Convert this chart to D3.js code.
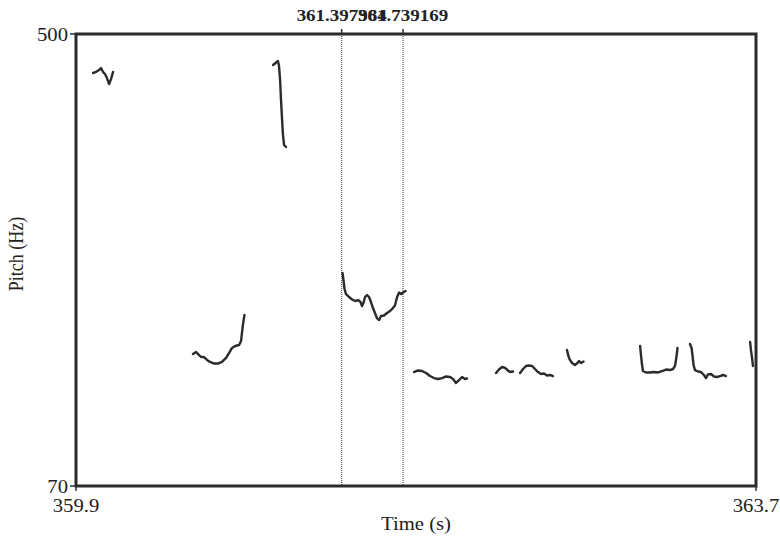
<!DOCTYPE html>
<html>
<head>
<meta charset="utf-8">
<script src="https://cdn.jsdelivr.net/npm/d3@7"></script>
<style>
  html, body { margin: 0; padding: 0; background: #fff; }
  svg text { font-family: "Liberation Serif", "Times New Roman", serif; fill: #222; }
</style>
</head>
<body>
<svg id="chart" width="780" height="537"></svg>
<script>
// Visible time window (s) and pitch range (Hz)
const timeRange = [359.922, 363.700];
const pitchRange = [70, 500];
const xTickLabels = ["359.9", "363.7"];
const yTickLabels = ["70", "500"];

// Selection cursors
const cursorTimes = [361.397984, 361.739169];
const cursorLabels = ["361.397984", "361.739169"];

// Voiced stretches of the pitch track: [time (s), F0 (Hz)]
const seg1 = [[360.017,462.9],[360.033,463.9],[360.050,465.7],[360.061,467.6],[360.072,463.9],[360.083,461.9],[360.094,458.1],[360.106,452.4],[360.117,457.3],[360.128,463.9]];
const seg2 = [[361.017,470.5],[361.044,474.3],[361.050,469.5],[361.056,456.2],[361.061,437.2],[361.067,418.2],[361.072,404.0],[361.078,394.4],[361.089,392.5]];
const seg3 = [[360.572,195.6],[360.589,197.5],[360.606,194.6],[360.617,192.7],[360.633,192.7],[360.650,189.9],[360.667,188.0],[360.689,186.5],[360.711,186.5],[360.733,188.0],[360.756,191.8],[360.772,196.5],[360.789,201.3],[360.806,203.2],[360.828,204.1],[360.839,207.9],[360.844,215.5],[360.850,224.1],[360.858,232.7]];
const seg4 = [[361.403,272.6],[361.408,266.0],[361.414,257.4],[361.422,252.6],[361.439,249.8],[361.456,247.4],[361.472,246.0],[361.489,246.9],[361.503,245.0],[361.511,241.2],[361.519,244.1],[361.528,249.8],[361.539,251.7],[361.550,249.8],[361.561,245.0],[361.572,239.3],[361.583,234.6],[361.594,229.8],[361.606,227.9],[361.617,231.7],[361.633,232.2],[361.650,234.6],[361.667,236.5],[361.683,239.3],[361.694,241.7],[361.706,249.8],[361.717,254.1],[361.728,252.6],[361.739,254.1],[361.753,255.5]];
const seg5 = [[361.800,178.4],[361.822,179.9],[361.844,179.4],[361.867,177.5],[361.889,174.6],[361.911,172.7],[361.933,171.8],[361.956,172.7],[361.978,174.2],[362.000,173.7],[362.017,171.8],[362.033,168.0],[362.050,170.8],[362.067,173.7],[362.083,171.8],[362.094,172.3]];
const seg6 = [[362.256,177.5],[362.272,180.8],[362.289,183.2],[362.306,182.3],[362.322,179.9],[362.333,178.4],[362.350,178.9]];
const seg7 = [[362.389,177.5],[362.406,181.3],[362.422,184.2],[362.439,184.6],[362.456,184.2],[362.472,181.3],[362.489,178.4],[362.506,176.5],[362.522,177.0],[362.539,175.1],[362.556,175.6],[362.572,174.6]];
const seg8 = [[362.650,199.4],[362.656,194.6],[362.664,190.8],[362.678,187.0],[362.694,185.1],[362.708,187.0],[362.717,188.9],[362.728,187.0],[362.742,188.4]];
const seg9 = [[363.056,203.2],[363.061,194.6],[363.067,185.1],[363.072,179.4],[363.089,178.0],[363.111,178.0],[363.133,178.4],[363.156,178.0],[363.178,179.4],[363.200,180.8],[363.222,180.3],[363.239,181.3],[363.250,184.2],[363.258,192.7],[363.264,201.3]];
const seg10 = [[363.333,205.1],[363.342,201.3],[363.347,194.6],[363.353,185.1],[363.361,180.3],[363.378,178.9],[363.394,178.4],[363.411,175.6],[363.422,172.7],[363.433,176.1],[363.450,176.5],[363.467,174.2],[363.483,173.7],[363.500,174.6],[363.517,175.6],[363.533,174.6]];
const seg11 = [[363.667,207.0],[363.672,199.4],[363.678,191.8],[363.683,184.2]];
const pitchSegments = [seg1, seg2, seg3, seg4, seg5, seg6, seg7, seg8, seg9, seg10, seg11];

const svg = d3.select("#chart");
const plot = { left: 76, right: 756, top: 34, bottom: 486 };
const ink = "#2b2b2b";
const stretch = 1.15;

const x = d3.scaleLinear().domain(timeRange).range([plot.left, plot.right]);
const y = d3.scaleLinear().domain(pitchRange).range([plot.bottom, plot.top]);

// text with the wide glyph proportions of the original print
function label(sel, str, px, py, opts) {
  const o = Object.assign({ size: 18, anchor: "middle", weight: "normal", rotate: 0 }, opts || {});
  const t = sel.append("text")
    .attr("transform", `translate(${px},${py}) rotate(${o.rotate}) scale(${o.rotate ? 1 : stretch},${o.rotate ? stretch : 1})`)
    .attr("text-anchor", o.anchor)
    .style("font-size", o.size + "px")
    .style("font-weight", o.weight)
    .text(str);
  return t;
}

// cursor lines (dotted)
const cursors = svg.append("g");
cursorTimes.forEach((t, i) => {
  cursors.append("line")
    .attr("x1", x(t)).attr("x2", x(t))
    .attr("y1", plot.top).attr("y2", plot.bottom)
    .attr("stroke", "#555").attr("stroke-width", 1.2)
    .attr("stroke-dasharray", "1,1");
  cursors.append("line")
    .attr("x1", x(t)).attr("x2", x(t))
    .attr("y1", plot.top - 5).attr("y2", plot.top)
    .attr("stroke", ink).attr("stroke-width", 1.5);
  label(svg, cursorLabels[i], x(t), 21, { size: 16.5, weight: "bold" });
});

// pitch contour
const line = d3.line().x(d => x(d[0])).y(d => y(d[1]));
svg.append("g").selectAll("path")
  .data(pitchSegments)
  .join("path")
  .attr("d", line)
  .attr("fill", "none")
  .attr("stroke", ink)
  .attr("stroke-width", 2.4)
  .attr("stroke-linejoin", "round")
  .attr("stroke-linecap", "round");

// frame
svg.append("rect")
  .attr("x", plot.left).attr("y", plot.top)
  .attr("width", plot.right - plot.left).attr("height", plot.bottom - plot.top)
  .attr("fill", "none").attr("stroke", ink).attr("stroke-width", 3);

// y axis end ticks
pitchRange.forEach((v, i) => {
  svg.append("line")
    .attr("x1", plot.left - 6).attr("x2", plot.left)
    .attr("y1", y(v)).attr("y2", y(v))
    .attr("stroke", ink).attr("stroke-width", 1.5);
  label(svg, yTickLabels[i], plot.left - 8, y(v) + 6.5, { anchor: "end" });
});

// x axis end ticks
timeRange.forEach((v, i) => {
  svg.append("line")
    .attr("x1", x(v)).attr("x2", x(v))
    .attr("y1", plot.bottom).attr("y2", plot.bottom + 5)
    .attr("stroke", ink).attr("stroke-width", 1.5);
  label(svg, xTickLabels[i], x(v), 512);
});

// axis titles
label(svg, "Time (s)", (plot.left + plot.right) / 2, 530);
label(svg, "Pitch (Hz)", 23, (plot.top + plot.bottom) / 2 - 6, { rotate: -90 });
</script>
</body>
</html>
